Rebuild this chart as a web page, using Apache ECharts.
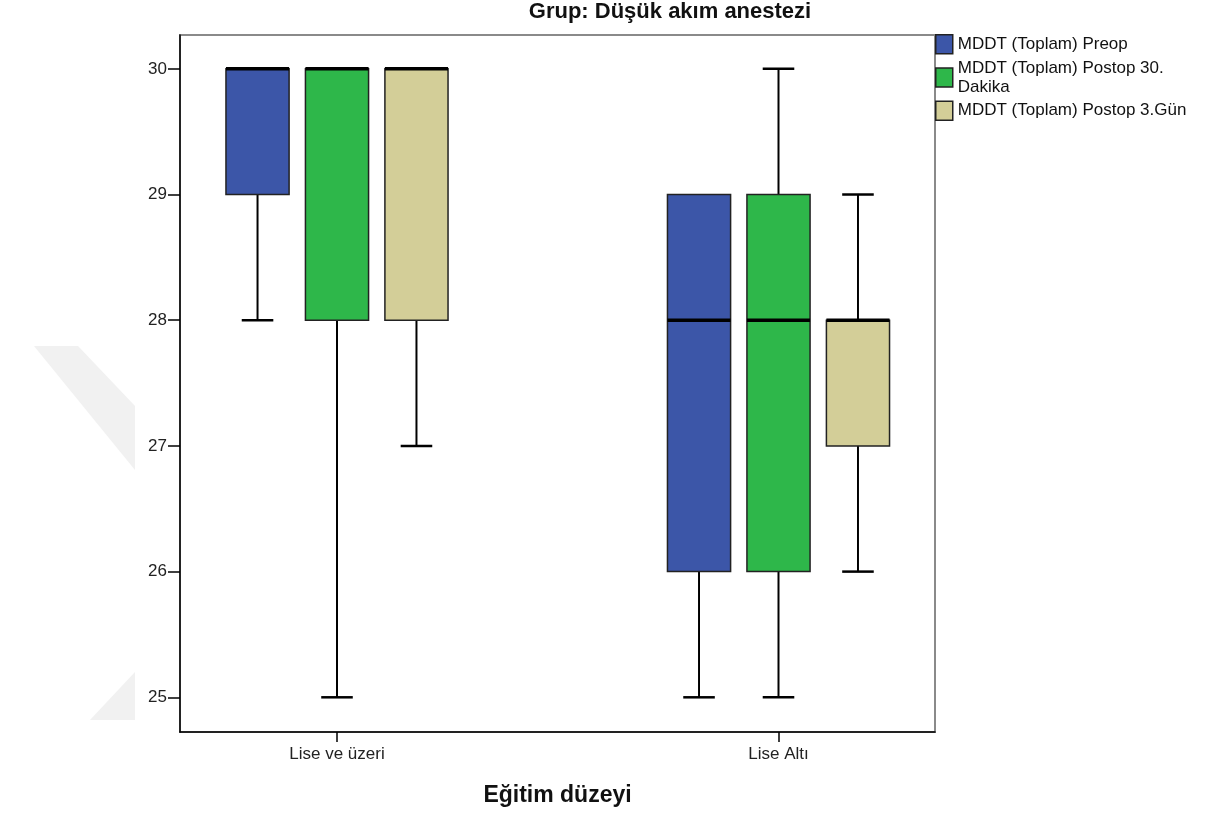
<!DOCTYPE html>
<html>
<head>
<meta charset="utf-8">
<script src="https://cdn.jsdelivr.net/npm/echarts@6/dist/echarts.min.js"></script>
<style>
  html, body { margin: 0; padding: 0; background: #fff; }
  #main { width: 1227px; height: 821px; }
</style>
</head>
<body>
<div id="main"></div>
<script>
// kategoriler ve seriler
var categories = ['Lise ve üzeri', 'Lise Altı'];
var seriesNames = ['MDDT (Toplam) Preop', 'MDDT (Toplam) Postop 30.\nDakika', 'MDDT (Toplam) Postop 3.Gün'];
// her kategori icin [min, Q1, medyan, Q3, max]
var preop = [[28, 29, 30, 30, 30], [25, 26, 28, 29, 29]];
var postop30 = [[25, 28, 30, 30, 30], [25, 26, 28, 29, 30]];
var postop3 = [[27, 28, 30, 30, 30], [26, 27, 28, 28, 29]];
var yTicks = [25, 26, 27, 28, 29, 30];

var chart = echarts.init(document.getElementById('main'));

var myColor = ['#3c56a8', '#2eb74a', '#d3ce98'];
var boxOffset = [-0.18, 0, 0.18];   // kategori genisliginin orani
var boxWidth = 0.143;

function toData(list) {
  return list.map(function (d, i) {
    return [i].concat(d);
  });
}

function makeRender(k) {
  return function (params, api) {
    var band = api.size([1, 0])[0];
    var cat = api.value(0);
    var cx = api.coord([cat, 0])[0] + boxOffset[k] * band;
    var half = boxWidth * band / 2;
    var capHalf = half / 2;
    var y = [1, 2, 3, 4, 5].map(function (i) {
      return api.coord([cat, api.value(i)])[1];
    });
    var wStyle = { stroke: '#000', lineWidth: 2 };
    var children = [];
    if (api.value(1) !== api.value(2)) {
      children.push({ type: 'line', shape: { x1: cx, y1: y[1], x2: cx, y2: y[0] }, style: wStyle });
      children.push({ type: 'line', shape: { x1: cx - capHalf, y1: y[0], x2: cx + capHalf, y2: y[0] }, style: { stroke: '#000', lineWidth: 2.5 } });
    }
    if (api.value(5) !== api.value(4)) {
      children.push({ type: 'line', shape: { x1: cx, y1: y[3], x2: cx, y2: y[4] }, style: wStyle });
      children.push({ type: 'line', shape: { x1: cx - capHalf, y1: y[4], x2: cx + capHalf, y2: y[4] }, style: { stroke: '#000', lineWidth: 2.5 } });
    }
    children.push({
      type: 'rect',
      shape: { x: cx - half, y: y[3], width: half * 2, height: y[1] - y[3] },
      style: { fill: myColor[k], stroke: '#222', lineWidth: 1.5 }
    });
    children.push({
      type: 'line',
      shape: { x1: cx - half, y1: y[2], x2: cx + half, y2: y[2] },
      style: { stroke: '#000', lineWidth: 3.5 }
    });
    return { type: 'group', children: children };
  };
}

var allData = [preop, postop30, postop3];

var option = {
  animation: false,
  backgroundColor: '#fff',
  textStyle: { fontFamily: 'Liberation Sans, Arial, sans-serif' },
  title: {
    text: 'Grup: Düşük akım anestezi',
    left: 670,
    textAlign: 'center',
    top: 1,
    padding: 0,
    textStyle: { fontSize: 22, fontWeight: 'bold', color: '#111' }
  },
  legend: {
    orient: 'vertical',
    left: 935,
    top: 34,
    padding: 0,
    itemWidth: 17,
    itemHeight: 19,
    itemGap: 4,
    icon: 'rect',
    selectedMode: false,
    itemStyle: { borderColor: '#222', borderWidth: 1.5 },
    textStyle: { fontSize: 17, lineHeight: 19, color: '#111' },
    data: seriesNames
  },
  graphic: [
    {
      type: 'polygon', silent: true, z: -10,
      shape: { points: [[34, 346], [78, 346], [135, 406], [135, 470]] },
      style: { fill: '#f1f1f1' }
    },
    {
      type: 'polygon', silent: true, z: -10,
      shape: { points: [[90, 720], [135, 672], [135, 720]] },
      style: { fill: '#f1f1f1' }
    }
  ],
  grid: [
    { left: 180, top: 35, width: 755, height: 697, show: true, borderColor: '#8a8a8a', borderWidth: 2, backgroundColor: 'transparent' },
    { left: 116.25, top: 35, width: 883, height: 697 }
  ],
  xAxis: [
    {
      gridIndex: 0,
      type: 'value',
      min: 0,
      max: 1,
      axisLine: { show: true, onZero: false, lineStyle: { color: '#000', width: 1.5 } },
      axisTick: { show: false },
      axisLabel: { show: false },
      splitLine: { show: false },
      name: 'Eğitim düzeyi',
      nameLocation: 'middle',
      nameGap: 52,
      nameTextStyle: { fontSize: 23, fontWeight: 'bold', color: '#111' }
    },
    {
      gridIndex: 1,
      type: 'category',
      data: categories,
      axisLine: { show: false },
      axisTick: { show: true, alignWithLabel: true, length: 10, lineStyle: { color: '#000', width: 1.5 } },
      axisLabel: { fontSize: 17, color: '#222', margin: 14 },
      splitLine: { show: false }
    }
  ],
  yAxis: [
    {
      gridIndex: 0,
      type: 'value',
      min: 24.724,
      max: 30.269,
      axisLine: { show: true, onZero: false, lineStyle: { color: '#000', width: 1.5 } },
      axisTick: { show: true, length: 12, customValues: yTicks, lineStyle: { color: '#000', width: 1.5 } },
      axisLabel: { customValues: yTicks, fontSize: 17, color: '#222', margin: 13 },
      splitLine: { show: false }
    },
    {
      gridIndex: 1,
      type: 'value',
      min: 24.724,
      max: 30.269,
      show: false
    }
  ],
  series: allData.map(function (list, k) {
    return {
      name: seriesNames[k],
      type: 'custom',
      xAxisIndex: 1,
      yAxisIndex: 1,
      itemStyle: { color: myColor[k] },
      encode: { x: 0, y: [1, 2, 3, 4, 5] },
      renderItem: makeRender(k),
      data: toData(list)
    };
  })
};

chart.setOption(option);
</script>
</body>
</html>
